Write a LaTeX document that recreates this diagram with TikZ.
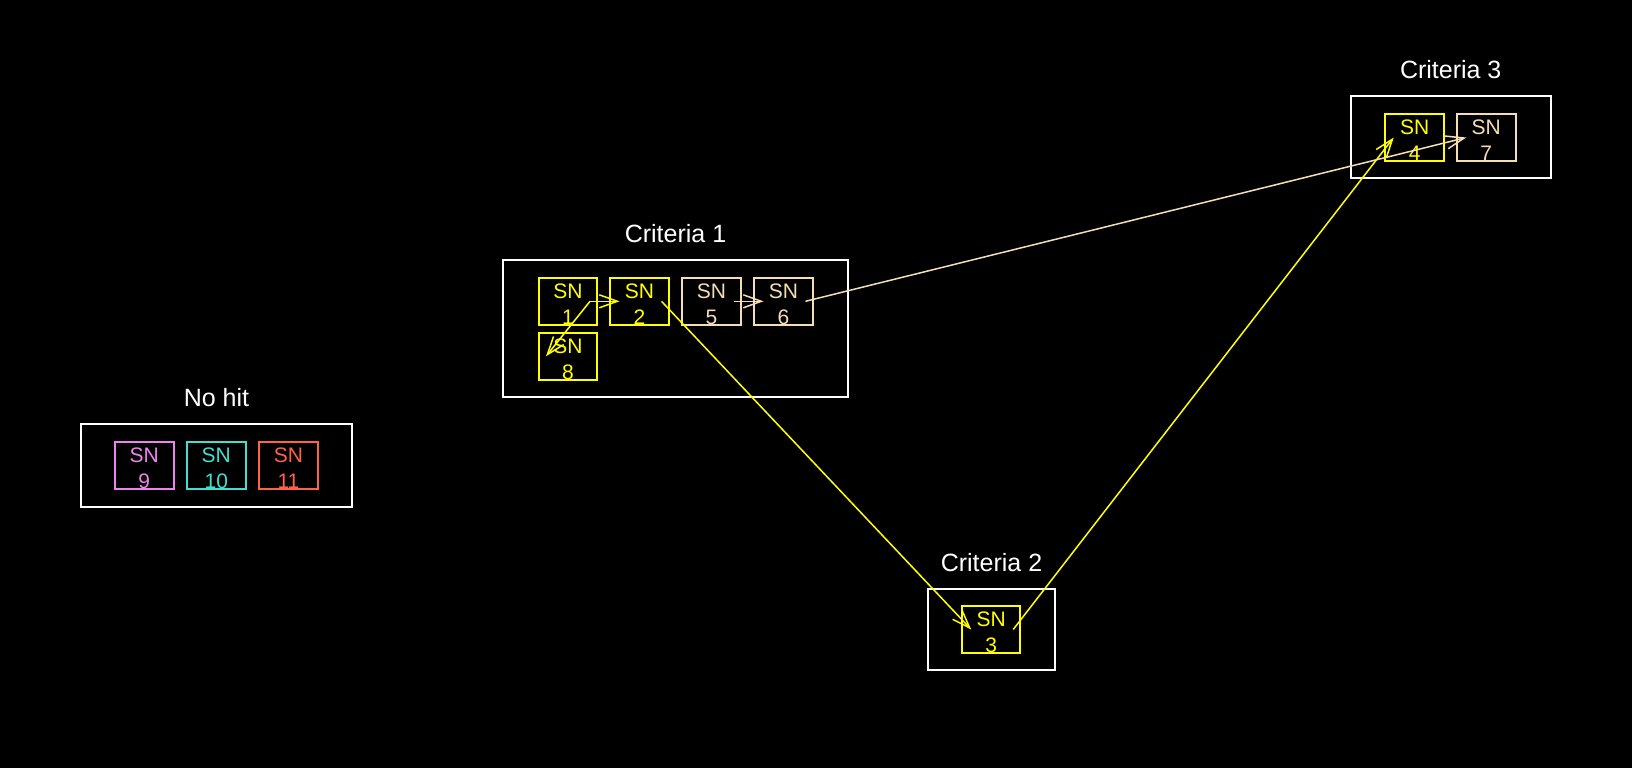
\documentclass[tikz,border=0pt]{standalone}
\usepackage{fontspec}
\setmainfont{Liberation Sans}
\usetikzlibrary{arrows.meta,calc}
\definecolor{snyellow}{RGB}{255,255,0}
\definecolor{snbeige}{RGB}{245,222,179}
\definecolor{snviolet}{RGB}{238,130,238}
\definecolor{snturq}{RGB}{64,224,208}
\definecolor{sntomato}{RGB}{255,99,71}
\begin{document}
\begin{tikzpicture}[x=1pt,y=-1pt,
  group/.style={draw=white,line width=2pt,inner sep=0pt},
  grouptitle/.style={text=white,font=\fontsize{25}{30}\selectfont,anchor=base,inner sep=0pt},
  sn/.style={draw=#1,text=#1,line width=2pt,minimum width=58.5pt,minimum height=47.5pt,inner sep=0pt,align=center,font=\fontsize{21}{26}\selectfont},
  link/.style={draw=#1,line width=1.5pt,-{Straight Barb[length=18pt,width=13pt]}}]
\fill[black] (0,0) rectangle (1632,768);
\useasboundingbox (0,0) rectangle (1632,768);
% groups
\node[group,minimum width=344.4pt,minimum height=136.7pt] (c1) at (675.5,328.3) {};
\node[group,minimum width=200pt,minimum height=81.7pt] (c3) at (1450.7,136.9) {};
\node[group,minimum width=127.6pt,minimum height=81pt] (c2) at (991.5,629.5) {};
\node[group,minimum width=271.6pt,minimum height=82.7pt] (nh) at (216.5,465.7) {};
% titles
\node[grouptitle] (t1) at (675.5,242.5) {Criteria 1};
\node[grouptitle] (t3) at (1450.7,78.5) {Criteria 3};
\node[grouptitle] (t2) at (991.5,571.5) {Criteria 2};
\node[grouptitle] (tn) at (216.5,406.8) {No hit};
% SN boxes
\node[sn=snyellow] (sn1) at (568,301.3) {\rule{0pt}{20pt}SN\\1};
\node[sn=snyellow] (sn2) at (639.5,301.3) {\rule{0pt}{20pt}SN\\2};
\node[sn=snbeige] (sn5) at (711.5,301.3) {\rule{0pt}{20pt}SN\\5};
\node[sn=snbeige] (sn6) at (783.5,301.3) {\rule{0pt}{20pt}SN\\6};
\node[sn=snyellow] (sn8) at (568,356.3) {\rule{0pt}{20pt}SN\\8};
\node[sn=snyellow] (sn4) at (1414.7,137.5) {\rule{0pt}{20pt}SN\\4};
\node[sn=snbeige] (sn7) at (1486.3,137.5) {\rule{0pt}{20pt}SN\\7};
\node[sn=snyellow] (sn3) at (991.2,629.5) {\rule{0pt}{20pt}SN\\3};
\node[sn=snviolet] (sn9) at (144.3,465.3) {\rule{0pt}{20pt}SN\\9};
\node[sn=snturq] (sn10) at (216.3,465.3) {\rule{0pt}{20pt}SN\\10};
\node[sn=sntomato] (sn11) at (288.5,465.3) {\rule{0pt}{20pt}SN\\11};
% links
\draw[link=snyellow] ($(sn1.center)+(22,0)$) -- ($(sn2.center)+(-20,0)$);
\draw[link=snyellow] ($(sn1.center)+(22,0)$) -- ($(sn8.center)+(-22,0)$);
\draw[link=snyellow] ($(sn2.center)+(22,0)$) -- ($(sn3.center)+(-20,0)$);
\draw[link=snyellow] ($(sn3.center)+(22,0)$) -- ($(sn4.center)+(-21,0)$);
\draw[link=snbeige] ($(sn5.center)+(22,0)$) -- ($(sn6.center)+(-20,0)$);
\draw[link=snbeige] ($(sn6.center)+(22,0)$) -- ($(sn7.center)+(-20,0)$);
\end{tikzpicture}
\end{document}
